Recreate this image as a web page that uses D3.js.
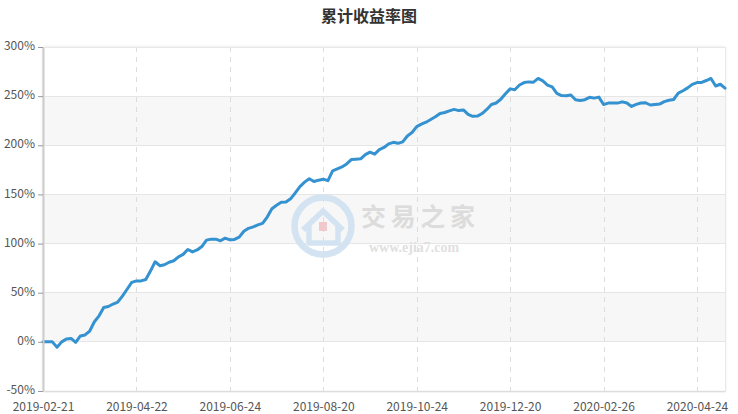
<!DOCTYPE html>
<html><head><meta charset="utf-8">
<script src="https://cdn.jsdelivr.net/npm/d3@7"></script>
<style>
html,body{margin:0;padding:0;background:#fff;}
svg{display:block;font-family:"Noto Sans CJK SC","Noto Sans",sans-serif;}
</style></head>
<body>
<svg id="chart" width="738" height="414"></svg>
<script>
const title = "累计收益率图";
const tickLabels = ["2019-02-21","2019-04-22","2019-06-24","2019-08-20","2019-10-24","2019-12-20","2020-02-26","2020-04-24"];
const tickEvery = 20;
const yTicks = [-50,0,50,100,150,200,250,300];
const returns = [
0,0,0,-5.5,0,3,3.5,-0.5,6,7,
11,20.5,26.5,35,36,38.5,40.5,46.5,53.5,60.5,
62,62,63.5,72,81.5,77.5,78.5,81,82.5,86.5,
89,94,91.5,93.5,97,103.5,104.5,104.5,102.8,105.5,
103.8,104.2,106.5,112.5,115.5,117,119,120.5,127,135.5,
139,142,142.2,145.5,151.5,158,162.5,166,163.2,164.5,
165.5,164,174,176,178,181,185.5,185.8,186.2,190.5,
193,191,195.5,197.8,201.5,203,202,203.5,209.5,213,
219,221.5,223.5,226.2,229,232.4,233.4,235,236.5,235.3,
236,231.5,229.5,229.7,232.3,236.5,241.5,243,246.8,252.5,
257.4,256.5,261.3,263.8,264.5,264.2,268,265.5,261.3,259.5,
252.8,250.6,250.3,251.2,246.3,245.5,246.4,248.8,248,249,
241.5,242.9,242.9,242.9,244.2,243,239.5,241.6,243,243.3,
241,241.5,241.9,244.4,245.8,246.6,253,255.5,258.4,262,
263.8,264,265.9,268,260.3,262.1,258.1
];

const svg = d3.select("#chart");
const W = 738, H = 414;
const m = {left:43, right:13, top:47, bottom:23};
const pw = W - m.left - m.right, ph = H - m.top - m.bottom;

const x = d3.scaleLinear().domain([0, returns.length-1]).range([m.left, m.left+pw]);
const y = d3.scaleLinear().domain([-50,300]).range([m.top+ph, m.top]);

// title
svg.append("text").attr("x", W/2).attr("y", 22).attr("text-anchor","middle")
  .attr("font-size",16).attr("font-weight","bold").attr("fill","#333").text(title);

// plot background with subtle shadow
const defs = svg.append("defs");
const f = defs.append("filter").attr("id","sh").attr("x","-5%").attr("y","-5%").attr("width","110%").attr("height","110%");
f.append("feDropShadow").attr("dx",0).attr("dy",0).attr("stdDeviation",1.5).attr("flood-color","#000").attr("flood-opacity",0.12);
svg.append("rect").attr("x",m.left).attr("y",m.top).attr("width",pw).attr("height",ph)
  .attr("fill","#fff").attr("filter","url(#sh)");

// alternating bands
const bands = d3.range(yTicks.length-1).filter(i => i % 2 === 1);
svg.append("g").selectAll("rect").data(bands).join("rect")
  .attr("x", m.left).attr("width", pw)
  .attr("y", i => y(yTicks[i+1])).attr("height", i => y(yTicks[i]) - y(yTicks[i+1]))
  .attr("fill","#f7f7f7");

// horizontal grid
svg.append("g").selectAll("line").data(yTicks).join("line")
  .attr("x1", m.left).attr("x2", m.left+pw)
  .attr("y1", d => y(d)).attr("y2", d => y(d))
  .attr("stroke","#e6e6e6").attr("stroke-width",1).attr("shape-rendering","crispEdges");

// vertical dashed grid
const tickIdx = tickLabels.map((d,i) => i*tickEvery);
svg.append("g").selectAll("line").data(tickIdx.slice(1)).join("line")
  .attr("x1", d => Math.round(x(d))+0.5).attr("x2", d => Math.round(x(d))+0.5)
  .attr("y1", m.top).attr("y2", m.top+ph)
  .attr("stroke","#dddddd").attr("stroke-dasharray","5,5");

// borders
svg.append("line").attr("x1", m.left+pw+0.5).attr("x2", m.left+pw+0.5).attr("y1", m.top).attr("y2", m.top+ph)
  .attr("stroke","#e8e8e8");
svg.append("line").attr("x1", m.left).attr("x2", m.left+pw).attr("y1", m.top+0.5).attr("y2", m.top+0.5)
  .attr("stroke","#e8e8e8");

// watermark
const wm = svg.append("g");
wm.append("circle").attr("cx",323).attr("cy",226).attr("r",28.5).attr("fill","none")
  .attr("stroke","#d3e3f1").attr("stroke-width",6.5);
wm.append("path").attr("d","M303,230 L323,211 L343,230 M309,226 L309,243 L338,243 L338,226")
  .attr("fill","none").attr("stroke","#d3e3f1").attr("stroke-width",5.5).attr("stroke-linejoin","round");
wm.append("rect").attr("x",319).attr("y",222).attr("width",8).attr("height",9).attr("fill","#efc9cc");
wm.append("text").attr("x",361).attr("y",226).attr("font-size",25).attr("font-weight","bold")
  .attr("fill","#dcdcdc").attr("textLength",114).text("交易之家");
wm.append("text").attr("x",369).attr("y",252).attr("font-size",14).attr("font-weight","bold")
  .attr("font-family","'Liberation Serif','DejaVu Serif',serif").attr("fill","#e0e0e0")
  .text("www.ejia7.com");

// line
const line = d3.line().x((d,i) => x(i)).y(d => y(d));
svg.append("path").datum(returns).attr("d", line).attr("fill","none")
  .attr("stroke","#3592d0").attr("stroke-width",3).attr("stroke-linejoin","round").attr("stroke-linecap","round");

// y axis
const yAxis = d3.axisLeft(y).tickValues(yTicks).tickFormat(d => d + "%").tickSize(5).tickSizeOuter(0);
const gy = svg.append("g").attr("transform",`translate(${m.left},0)`).call(yAxis);
gy.select(".domain").attr("stroke","#cccccc").attr("stroke-width",2);
gy.selectAll(".tick line").attr("stroke","#999");
gy.selectAll("text").attr("fill","#555").attr("font-size",12).attr("x",-8).attr("dy","0.22em")
  .attr("font-family","'Noto Sans CJK SC','Noto Sans',sans-serif");

// x axis
const xAxis = d3.axisBottom(x).tickValues(tickIdx).tickFormat((d,i) => tickLabels[i]).tickSize(0).tickSizeOuter(0);
const gx = svg.append("g").attr("transform",`translate(0,${m.top+ph})`).call(xAxis);
gx.select(".domain").attr("stroke","#dddddd").attr("stroke-width",1.5);
gx.selectAll("text").attr("fill","#555").attr("font-size",12).attr("y",11.5).attr("dy","0.71em")
  .attr("font-family","'Noto Sans CJK SC','Noto Sans',sans-serif");
</script>
</body></html>
